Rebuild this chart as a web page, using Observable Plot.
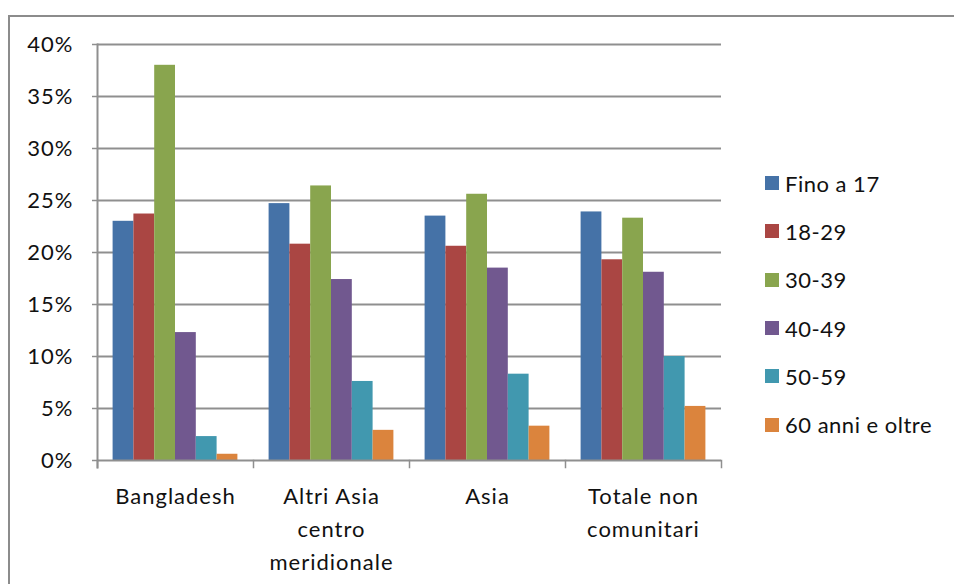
<!DOCTYPE html>
<html>
<head>
<meta charset="utf-8">
<script src="https://cdn.jsdelivr.net/npm/d3@7"></script>
<script src="https://cdn.jsdelivr.net/npm/@observablehq/plot@0.6"></script>
<style>
  body { margin: 0; background: #fff; }
  #chart { position: relative; width: 954px; height: 584px; overflow: hidden; font-family: Lato, "Open Sans", sans-serif; color: #111; }
  #chart svg { position: absolute; left: 0; top: 0; }
  #border { position: absolute; left: 8px; top: 15px; right: -10px; bottom: -10px; border-top: 2px solid #8c8c8c; border-left: 2px solid #8c8c8c; }
  #legend { position: absolute; left: 765px; top: 159px; font-size: 22px; letter-spacing: 0.5px; }
  .item { display: flex; align-items: center; height: 48.3px; }
  .swatch { width: 14px; height: 14px; margin-right: 6px; }
</style>
</head>
<body>
<div id="chart"><div id="border"></div><div id="legend"></div></div>
<script>
// Categories (groups along the x axis) and their wrapped labels
const categories = ["Bangladesh", "Altri Asia centro meridionale", "Asia", "Totale non comunitari"];
const categoryLabels = ["Bangladesh", "Altri Asia\ncentro\nmeridionale", "Asia", "Totale non\ncomunitari"];

// Age classes (one bar per class in each group)
const series = ["Fino a 17", "18-29", "30-39", "40-49", "50-59", "60 anni e oltre"];
const colors = ["#4572A7", "#AA4643", "#89A54E", "#71588F", "#4198AF", "#DB843D"];

// Share of each age class, in percent
const bangladesh = [23.0, 23.7, 38.0, 12.3, 2.3, 0.6];
const altriAsia  = [24.7, 20.8, 26.4, 17.4, 7.6, 2.9];
const asia       = [23.5, 20.6, 25.6, 18.5, 8.3, 3.3];
const totale     = [23.9, 19.3, 23.3, 18.1, 10.0, 5.2];

// Y axis ticks
const yTicks = [0, 5, 10, 15, 20, 25, 30, 35, 40];

const valuesByCategory = [bangladesh, altriAsia, asia, totale];
const data = categories.flatMap((c, i) =>
  valuesByCategory[i].map((v, j) => ({category: c, series: series[j], value: v}))
);

const axisGray = "#8f8f8f";
const textColor = "#111";

const chart = Plot.plot({
  width: 954,
  height: 584,
  marginTop: 44,
  marginBottom: 124,
  marginLeft: 97,
  marginRight: 233,
  style: {fontFamily: "Lato, 'Open Sans', sans-serif", fontSize: "22px", letterSpacing: "1px", color: textColor, background: "transparent"},
  fx: {domain: categories, padding: 0, axis: null},
  x: {domain: series, paddingInner: 0, paddingOuter: 0.75, round: false, axis: null},
  y: {domain: [0, 40], axis: null},
  color: {domain: series, range: colors},
  marks: [
    Plot.gridY(yTicks.slice(1), {stroke: axisGray, strokeOpacity: 1, strokeWidth: 2}),
    Plot.axisY(yTicks, {
      tickSize: 5, tickPadding: 19, tickFormat: d => d + "%", label: null,
      stroke: axisGray, strokeWidth: 1.5, fontSize: 22, fill: textColor
    }),
    Plot.barY(data, {fx: "category", x: "series", y: "value", fill: "series"}),
    Plot.ruleY([0], {stroke: axisGray, strokeWidth: 2}),
    // vertical axis line
    Plot.frame({anchor: "left", facetAnchor: "left", stroke: axisGray, strokeWidth: 2, insetBottom: -7}),
    // category boundary ticks
    Plot.frame({anchor: "left", stroke: axisGray, strokeWidth: 1.5, insetTop: 416, insetBottom: -7}),
    Plot.frame({anchor: "right", facetAnchor: "right", stroke: axisGray, strokeWidth: 1.5, insetTop: 416, insetBottom: -7}),
    Plot.text(categories, {
      fx: d => d, text: (d, i) => categoryLabels[i],
      frameAnchor: "bottom", lineAnchor: "top", dy: 20, lineHeight: 1.5,
      fontSize: 22, fill: textColor
    })
  ]
});

document.getElementById("chart").appendChild(chart);

// Legend
const legend = d3.select("#legend");
series.forEach((s, i) => {
  const item = legend.append("div").attr("class", "item");
  item.append("div").attr("class", "swatch").style("background", colors[i]);
  item.append("span").text(s);
});
</script>
</body>
</html>
